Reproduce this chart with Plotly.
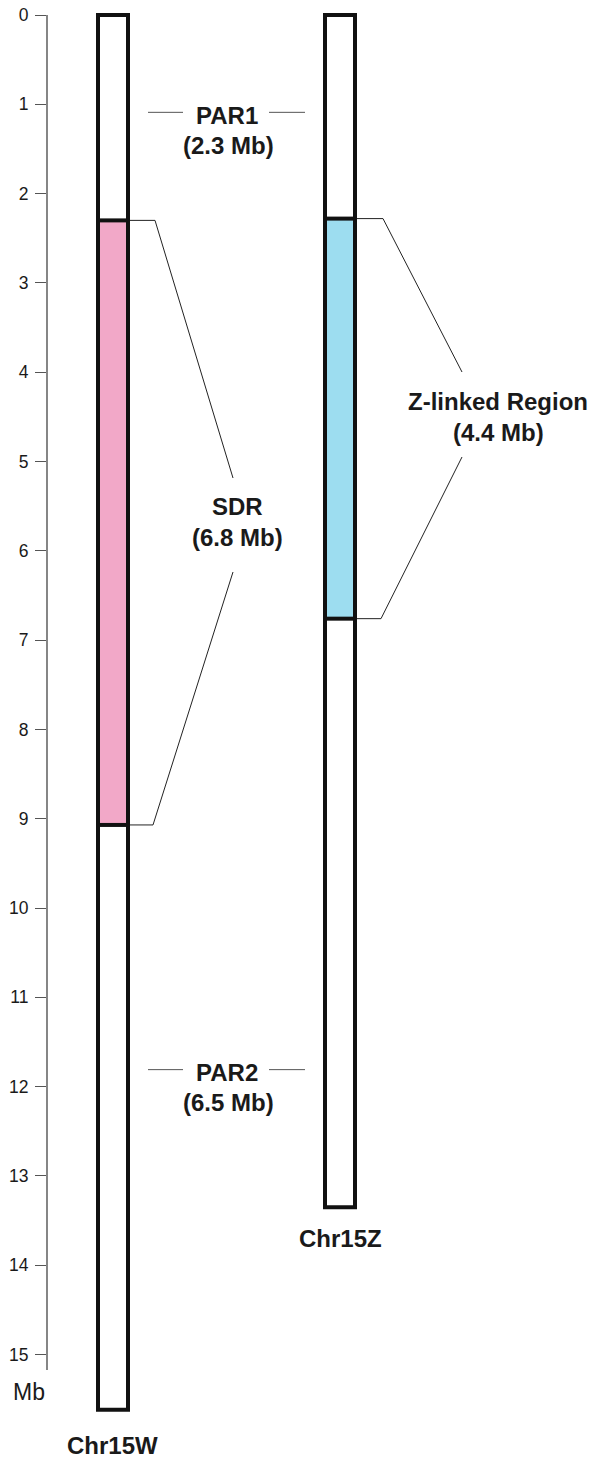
import plotly.graph_objects as go

# ---------------- data ----------------
chromosomes = ["Chr15W", "Chr15Z"]
chrom_length_mb = [15.62, 13.35]
region_names = ["SDR", "Z-linked Region"]
region_sizes = ["(6.8 Mb)", "(4.4 Mb)"]
region_start_mb = [2.30, 2.28]
region_end_mb = [9.07, 6.76]
region_colors = ["#F2A8C8", "#9DDDF0"]
par_names = ["PAR1", "PAR2"]
par_sizes = ["(2.3 Mb)", "(6.5 Mb)"]
par_label_mb = [1.09, 11.81]
tick_values = list(range(0, 16))
tick_labels = [str(v) for v in tick_values]

# ---------------- layout constants ----------------
W, H = 592, 1458
PX_PER_MB = 89.3
TOP_PX = 15.0
LEFT = 47
y_top = -TOP_PX / PX_PER_MB
y_bot = (H - TOP_PX) / PX_PER_MB

def mb(px):
    return (px - TOP_PX) / PX_PER_MB

def paper_x(px):
    return (px - LEFT) / (W - LEFT)

chrom_x = [113, 340]
half_w = 15
FONT = "Liberation Sans, Arial, sans-serif"
TXT = "#1a1a1a"

fig = go.Figure()
fig.add_trace(go.Scatter(x=[LEFT, W], y=[0, 0], mode="markers",
                         marker=dict(opacity=0), hoverinfo="skip", showlegend=False))

shapes = []
annotations = []

# colored regions
for i, name in enumerate(region_names):
    cx = chrom_x[i]
    shapes.append(dict(type="rect", xref="x", yref="y",
                       x0=cx - half_w, x1=cx + half_w,
                       y0=region_start_mb[i], y1=region_end_mb[i],
                       fillcolor=region_colors[i], line=dict(width=0), layer="above"))
# region boundaries
for i, name in enumerate(region_names):
    cx = chrom_x[i]
    for yv in (region_start_mb[i], region_end_mb[i]):
        shapes.append(dict(type="line", xref="x", yref="y",
                           x0=cx - half_w, x1=cx + half_w, y0=yv, y1=yv,
                           line=dict(color="#111111", width=4), layer="above"))
# chromosome outlines
for i, c in enumerate(chromosomes):
    cx = chrom_x[i]
    shapes.append(dict(type="rect", xref="x", yref="y",
                       x0=cx - half_w, x1=cx + half_w, y0=0, y1=chrom_length_mb[i],
                       line=dict(color="#111111", width=4), fillcolor="rgba(0,0,0,0)",
                       layer="above"))

# connectors for regions
conn = [
    (130, 155, 233, 478, 572),
    (357, 383, 462, 372, 457),
]
for i in range(len(region_names)):
    xo, xb, xl, ltop, lbot = conn[i]
    path_top = f"M {xo},{region_start_mb[i]} L {xb},{region_start_mb[i]} L {xl},{mb(ltop)}"
    path_bot = f"M {xo},{region_end_mb[i]} L {xb - 2},{region_end_mb[i]} L {xl},{mb(lbot)}"
    for p in (path_top, path_bot):
        shapes.append(dict(type="path", xref="x", yref="y", path=p,
                           line=dict(color="#222222", width=1)))

# region labels
region_label_pos = [(237, 506, 537), (498, 401, 432)]
for i in range(len(region_names)):
    x, y1, y2 = region_label_pos[i]
    annotations.append(dict(x=x, y=mb(y1), xref="x", yref="y", text=f"<b>{region_names[i]}</b>",
                            showarrow=False, font=dict(family=FONT, size=24, color=TXT),
                            xanchor="center", yanchor="middle"))
    annotations.append(dict(x=x, y=mb(y2), xref="x", yref="y", text=f"<b>{region_sizes[i]}</b>",
                            showarrow=False, font=dict(family=FONT, size=24, color=TXT),
                            xanchor="center", yanchor="middle"))

# PAR labels with side dashes
for i in range(len(par_names)):
    yv = par_label_mb[i]
    for (a, b) in ((148, 183), (269, 305)):
        shapes.append(dict(type="line", xref="x", yref="y", x0=a, x1=b, y0=yv, y1=yv,
                           line=dict(color="#555555", width=1)))
    annotations.append(dict(x=227, y=yv + mb(TOP_PX + 3), xref="x", yref="y",
                            text=f"<b>{par_names[i]}</b>", showarrow=False,
                            font=dict(family=FONT, size=24, color=TXT),
                            xanchor="center", yanchor="middle"))
    annotations.append(dict(x=228, y=yv + mb(TOP_PX + 33), xref="x", yref="y",
                            text=f"<b>{par_sizes[i]}</b>", showarrow=False,
                            font=dict(family=FONT, size=24, color=TXT),
                            xanchor="center", yanchor="middle"))

# chromosome names
name_px = [(112, 1445), (340, 1238)]
for i, c in enumerate(chromosomes):
    x, ypx = name_px[i]
    annotations.append(dict(x=x, y=mb(ypx), xref="x", yref="y", text=f"<b>{c}</b>",
                            showarrow=False, font=dict(family=FONT, size=24, color=TXT),
                            xanchor="center", yanchor="middle"))

# axis unit
annotations.append(dict(x=paper_x(29), y=1 - 1392 / H, xref="paper", yref="paper", text="Mb",
                        showarrow=False, font=dict(family=FONT, size=23, color=TXT),
                        xanchor="center", yanchor="middle"))

# axis line (only spanning the tick range)
shapes.append(dict(type="line", xref="paper", yref="y", x0=0, x1=0, y0=0, y1=mb(1370),
                   line=dict(color="#444444", width=1.3)))

fig.update_layout(
    width=W, height=H,
    margin=dict(l=LEFT, r=0, t=0, b=0),
    paper_bgcolor="white", plot_bgcolor="white",
    shapes=shapes, annotations=annotations,
    showlegend=False,
    xaxis=dict(range=[LEFT, W], visible=False, fixedrange=True),
    yaxis=dict(range=[y_bot, y_top], showgrid=False, zeroline=False, showline=False,
               ticks="outside", ticklen=11, tickwidth=1, tickcolor="#555555",
               tickvals=tick_values, ticktext=tick_labels, ticklabelstandoff=3,
               tickfont=dict(family=FONT, size=17.5, color=TXT), fixedrange=True),
)

fig.write_html("out.html")
